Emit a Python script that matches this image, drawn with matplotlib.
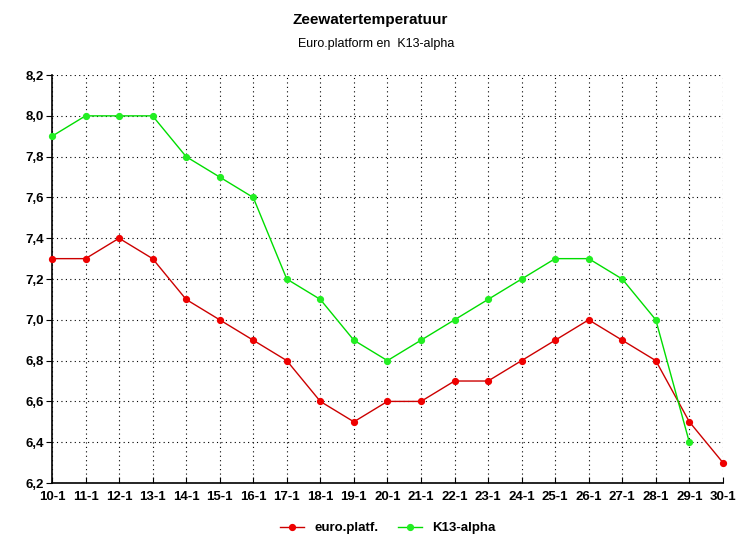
import matplotlib.pyplot as plt
import numpy as np

# dates (day-1 = January)
dagen = ['10-1', '11-1', '12-1', '13-1', '14-1', '15-1', '16-1', '17-1', '18-1', '19-1', '20-1',
         '21-1', '22-1', '23-1', '24-1', '25-1', '26-1', '27-1', '28-1', '29-1', '30-1']
euro_platf = [7.3, 7.3, 7.4, 7.3, 7.1, 7.0, 6.9, 6.8, 6.6, 6.5, 6.6,
              6.6, 6.7, 6.7, 6.8, 6.9, 7.0, 6.9, 6.8, 6.5, 6.3]
k13_alpha = [7.9, 8.0, 8.0, 8.0, 7.8, 7.7, 7.6, 7.2, 7.1, 6.9, 6.8,
             6.9, 7.0, 7.1, 7.2, 7.3, 7.3, 7.2, 7.0, 6.4]
y_ticks = [6.2, 6.4, 6.6, 6.8, 7.0, 7.2, 7.4, 7.6, 7.8, 8.0, 8.2]

plt.rcParams['font.family'] = ['Liberation Sans', 'DejaVu Sans']

fig = plt.figure(figsize=(7.53, 5.52), dpi=100)
ax = fig.add_axes([0.069, 0.125, 0.891, 0.739])

x = np.arange(len(dagen))
ax.plot(x, euro_platf, color='#cc0000', marker='o', markersize=4.2, markerfacecolor='#ee0000',
        markeredgecolor='#ee0000', linewidth=1, label='euro.platf.', clip_on=False, zorder=3)
ax.plot(x[:len(k13_alpha)], k13_alpha, color='#00dd00', marker='o', markersize=4.2,
        markerfacecolor='#22ee22', markeredgecolor='#22ee22', linewidth=1, label='K13-alpha',
        clip_on=False, zorder=3)

ax.set_xlim(0, len(dagen) - 1)
ax.set_ylim(6.2, 8.2)
ax.set_xticks(x)
ax.set_xticklabels(dagen, fontsize=9.5, fontweight='bold')
ax.set_yticks(y_ticks)
ax.set_yticklabels([('%.1f' % v).replace('.', ',') for v in y_ticks], fontsize=9.5, fontweight='bold')
ax.tick_params(axis='x', direction='in', length=4, pad=6)
ax.tick_params(axis='y', direction='out', length=4, pad=2)

ax.grid(True, color='black', linestyle=(0, (1, 3)), linewidth=0.8)
ax.spines['top'].set_visible(False)
ax.spines['right'].set_visible(False)
ax.spines['left'].set_linewidth(1.2)
ax.spines['bottom'].set_linewidth(1.2)

fig.text(0.492, 0.964, 'Zeewatertemperatuur', ha='center', va='center', fontsize=11, fontweight='bold')
fig.text(0.5, 0.921, 'Euro.platform en  K13-alpha', ha='center', va='center', fontsize=9)

ax.legend(loc='center', bbox_to_anchor=(0.515, 0.043), bbox_transform=fig.transFigure, frameon=False,
          ncol=2, prop={'weight': 'bold', 'size': 9.5}, handlelength=1.8, columnspacing=1.5)

fig.savefig('out.png', dpi=100)
